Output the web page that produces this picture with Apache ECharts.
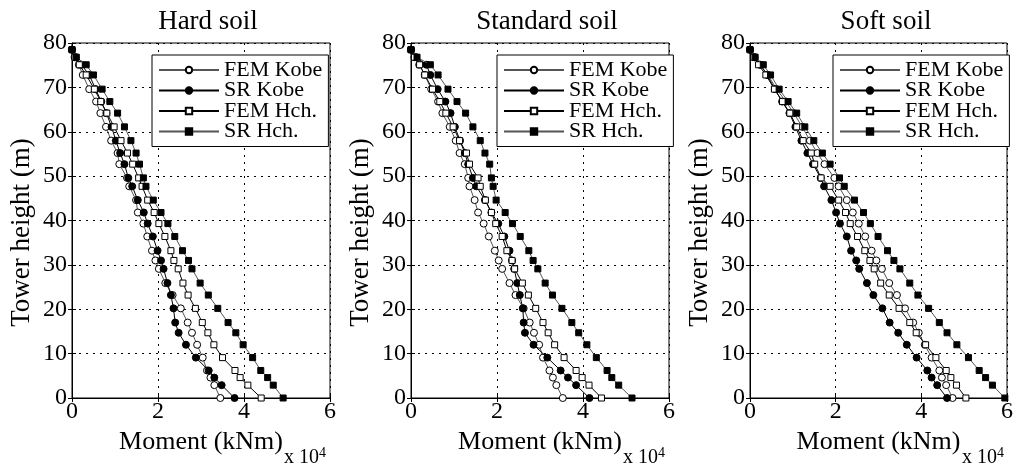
<!DOCTYPE html>
<html>
<head>
<meta charset="utf-8">
<script src="https://cdn.jsdelivr.net/npm/echarts@6/dist/echarts.min.js"></script>
<style>html,body{margin:0;padding:0;background:#fff}#c{width:1016px;height:468px}</style>
</head>
<body>
<div id="c"></div>
<script>
// Tower heights (m), bottom to top
var heights = [0, 2.9, 4.6, 6.2, 9.1, 12.0, 14.7, 17.0, 20.2, 23.2, 25.9, 29.1, 31.0, 33.2, 36.4, 39.3, 41.8, 44.6, 47.7, 49.6, 52.7, 55.2, 58.0, 61.1, 64.2, 66.8, 69.6, 72.8, 75.1, 76.8, 78.5];

var panelTitles = ['Hard soil', 'Standard soil', 'Soft soil'];
var seriesNames = ['FEM Kobe', 'SR Kobe', 'FEM Hch.', 'SR Hch.'];
var xAxisName = 'Moment (kNm)';
var yAxisName = 'Tower height (m)';
var xScaleNote = 'x 10';
var xScaleExp = '4';

// Moment values (x 10^4 kNm), one per height
var hardFemKobe = [3.45, 3.31, 3.22, 3.14, 3.04, 2.91, 2.79, 2.69, 2.53, 2.34, 2.17, 2.02, 1.94, 1.86, 1.75, 1.66, 1.53, 1.49, 1.33, 1.28, 1.10, 1.06, 0.91, 0.79, 0.66, 0.56, 0.40, 0.25, 0.16, 0.06, 0];
var hardSrKobe  = [3.78, 3.48, 3.31, 3.18, 2.88, 2.65, 2.48, 2.40, 2.36, 2.30, 2.22, 2.13, 2.07, 1.99, 1.88, 1.76, 1.67, 1.53, 1.40, 1.31, 1.22, 1.12, 1.02, 0.92, 0.80, 0.68, 0.55, 0.40, 0.22, 0.08, 0];
var hardFemHch  = [4.40, 4.09, 3.91, 3.79, 3.50, 3.30, 3.16, 3.03, 2.87, 2.70, 2.58, 2.47, 2.37, 2.30, 2.16, 2.02, 1.91, 1.76, 1.63, 1.55, 1.41, 1.29, 1.14, 0.98, 0.81, 0.67, 0.52, 0.33, 0.17, 0.07, 0];
var hardSrHch   = [4.91, 4.68, 4.55, 4.39, 4.20, 3.98, 3.81, 3.63, 3.39, 3.17, 2.98, 2.79, 2.71, 2.57, 2.39, 2.23, 2.07, 1.89, 1.72, 1.66, 1.57, 1.49, 1.37, 1.22, 1.06, 0.88, 0.70, 0.50, 0.33, 0.10, 0];

var stdFemKobe = [3.53, 3.38, 3.30, 3.22, 3.07, 2.98, 2.86, 2.76, 2.62, 2.43, 2.29, 2.12, 2.04, 1.95, 1.81, 1.69, 1.56, 1.48, 1.36, 1.33, 1.25, 1.13, 1.04, 0.90, 0.73, 0.63, 0.47, 0.32, 0.19, 0.08, 0];
var stdSrKobe  = [4.15, 3.84, 3.65, 3.48, 3.17, 2.85, 2.65, 2.62, 2.60, 2.53, 2.47, 2.40, 2.35, 2.29, 2.17, 2.03, 1.87, 1.72, 1.52, 1.44, 1.33, 1.25, 1.14, 1.02, 0.92, 0.80, 0.62, 0.45, 0.36, 0.12, 0];
var stdFemHch  = [4.43, 4.14, 3.98, 3.84, 3.56, 3.34, 3.19, 3.07, 2.90, 2.73, 2.59, 2.41, 2.35, 2.23, 2.12, 1.97, 1.87, 1.73, 1.61, 1.56, 1.36, 1.29, 1.13, 0.98, 0.81, 0.67, 0.50, 0.32, 0.20, 0.08, 0];
var stdSrHch   = [5.14, 4.83, 4.67, 4.56, 4.31, 4.09, 3.90, 3.74, 3.51, 3.29, 3.12, 2.95, 2.84, 2.74, 2.54, 2.36, 2.19, 1.98, 1.91, 1.87, 1.83, 1.72, 1.61, 1.44, 1.27, 1.07, 0.86, 0.63, 0.45, 0.14, 0];

var softFemKobe = [4.73, 4.58, 4.48, 4.42, 4.24, 4.08, 3.94, 3.81, 3.62, 3.43, 3.25, 3.08, 2.95, 2.84, 2.69, 2.54, 2.40, 2.26, 2.07, 1.97, 1.74, 1.57, 1.40, 1.22, 1.02, 0.84, 0.62, 0.42, 0.22, 0.10, 0];
var softSrKobe  = [4.60, 4.37, 4.24, 4.14, 3.89, 3.66, 3.46, 3.26, 3.09, 2.88, 2.73, 2.55, 2.48, 2.36, 2.26, 2.10, 2.01, 1.90, 1.73, 1.65, 1.47, 1.34, 1.20, 1.06, 0.92, 0.75, 0.58, 0.40, 0.25, 0.10, 0];
var softFemHch  = [5.04, 4.82, 4.69, 4.58, 4.34, 4.10, 3.88, 3.73, 3.48, 3.25, 3.05, 2.90, 2.80, 2.68, 2.51, 2.34, 2.23, 2.07, 1.87, 1.66, 1.51, 1.43, 1.24, 1.09, 0.93, 0.76, 0.57, 0.37, 0.20, 0.09, 0];
var softSrHch   = [5.95, 5.66, 5.50, 5.35, 5.10, 4.83, 4.60, 4.42, 4.17, 3.92, 3.73, 3.50, 3.36, 3.21, 2.99, 2.81, 2.65, 2.44, 2.20, 2.09, 1.87, 1.69, 1.49, 1.28, 1.09, 0.89, 0.68, 0.48, 0.31, 0.12, 0];

var panels = [
  [hardFemKobe, hardSrKobe, hardFemHch, hardSrHch],
  [stdFemKobe, stdSrKobe, stdFemHch, stdSrHch],
  [softFemKobe, softSrKobe, softFemHch, softSrHch]
];

var FONT = "'Liberation Serif', 'Times New Roman', serif";
var gridLefts = [72, 411, 750];
var GRID_TOP = 43, GRID_W = 258, GRID_H = 355;
var legendLefts = [152, 497, 833];

var markerStyles = [
  {symbol: 'circle', size: 7, fill: '#fff', line: '#555'},
  {symbol: 'circle', size: 7, fill: '#000', line: '#000'},
  {symbol: 'rect', size: 6, fill: '#fff', line: '#000'},
  {symbol: 'rect', size: 6, fill: '#000', line: '#555'}
];

function pairs(vals) {
  return vals.map(function (v, i) { return [v, heights[i]]; });
}

var dotted = {color: '#000', type: [2, 5], width: 1};

var option = {
  animation: false,
  backgroundColor: '#fff',
  title: [], grid: [], xAxis: [], yAxis: [], legend: [], series: [],
  graphic: []
};

for (var p = 0; p < 3; p++) {
  var cx = gridLefts[p] + GRID_W / 2;
  option.title.push({
    text: panelTitles[p], left: cx + 2, top: 3, textAlign: 'center',
    textStyle: {fontFamily: FONT, fontSize: 27, fontWeight: 'normal', color: '#000'}
  });
  option.grid.push({
    left: gridLefts[p], top: GRID_TOP, width: GRID_W, height: GRID_H,
    show: true, borderColor: '#000', borderWidth: 1, backgroundColor: 'transparent'
  });
  option.xAxis.push({
    type: 'value', gridIndex: p, min: 0, max: 6, interval: 2,
    name: xAxisName, nameLocation: 'middle', nameGap: 22,
    nameTextStyle: {fontFamily: FONT, fontSize: 26, color: '#000'},
    axisLine: {show: true, onZero: false, lineStyle: {color: '#000', width: 1}},
    axisTick: {show: true, inside: true, length: 4, lineStyle: {color: '#000'}},
    axisLabel: {fontFamily: FONT, fontSize: 24, color: '#000', margin: 2},
    splitLine: {show: true, lineStyle: dotted}
  });
  option.yAxis.push({
    type: 'value', gridIndex: p, min: 0, max: 80, interval: 10,
    axisLine: {show: true, onZero: false, lineStyle: {color: '#000', width: 1}},
    axisTick: {show: true, inside: true, length: 4, lineStyle: {color: '#000'}},
    axisLabel: {fontFamily: FONT, fontSize: 24, color: '#000', margin: 5},
    splitLine: {show: true, lineStyle: dotted}
  });
  option.legend.push({
    orient: 'vertical', left: legendLefts[p], top: 55,
    data: seriesNames,
    itemWidth: 60, itemHeight: 8, itemGap: -1.5,
    padding: [4, 6, 4, 6],
    backgroundColor: '#fff', borderColor: '#000', borderWidth: 1,
    textStyle: {fontFamily: FONT, fontSize: 22, color: '#000', lineHeight: 20},
    selectedMode: false
  });
  for (var s = 0; s < 4; s++) {
    var ms = markerStyles[s];
    option.series.push({
      name: seriesNames[s], type: 'line', xAxisIndex: p, yAxisIndex: p,
      data: pairs(panels[p][s]),
      symbol: ms.symbol, symbolSize: ms.size, showAllSymbol: true,
      lineStyle: {color: ms.line, width: 1},
      itemStyle: {color: ms.fill, borderColor: '#000', borderWidth: 1},
      z: 3 + s
    });
  }
  option.graphic.push({
    type: 'text', x: gridLefts[p] - 50, y: GRID_TOP + GRID_H / 2 + 12, rotation: Math.PI / 2,
    style: {text: yAxisName, fontFamily: FONT, fontSize: 27, fill: '#000',
      align: 'center', verticalAlign: 'middle', textAlign: 'center', textVerticalAlign: 'middle'}
  });
  option.graphic.push({
    type: 'text', left: gridLefts[p] + GRID_W - 46, top: 446,
    style: {
      text: xScaleNote + '{sup|' + xScaleExp + '}', fontFamily: FONT, fontSize: 20, fill: '#000',
      rich: {sup: {fontFamily: FONT, fontSize: 14, verticalAlign: 'top', padding: [0, 0, 9, 0]}}
    }
  });
}
// top / right tick-only axes (box ticks)
for (var q = 0; q < 3; q++) {
  option.xAxis.push({
    type: 'value', gridIndex: q, min: 0, max: 6, interval: 2, position: 'top',
    axisLine: {show: false}, axisLabel: {show: false}, splitLine: {show: false},
    axisTick: {show: true, inside: true, length: 4, lineStyle: {color: '#000'}}
  });
  option.yAxis.push({
    type: 'value', gridIndex: q, min: 0, max: 80, interval: 10, position: 'right',
    axisLine: {show: false}, axisLabel: {show: false}, splitLine: {show: false},
    axisTick: {show: true, inside: true, length: 4, lineStyle: {color: '#000'}}
  });
}

var chart = echarts.init(document.getElementById('c'));
chart.setOption(option);
</script>
</body>
</html>
